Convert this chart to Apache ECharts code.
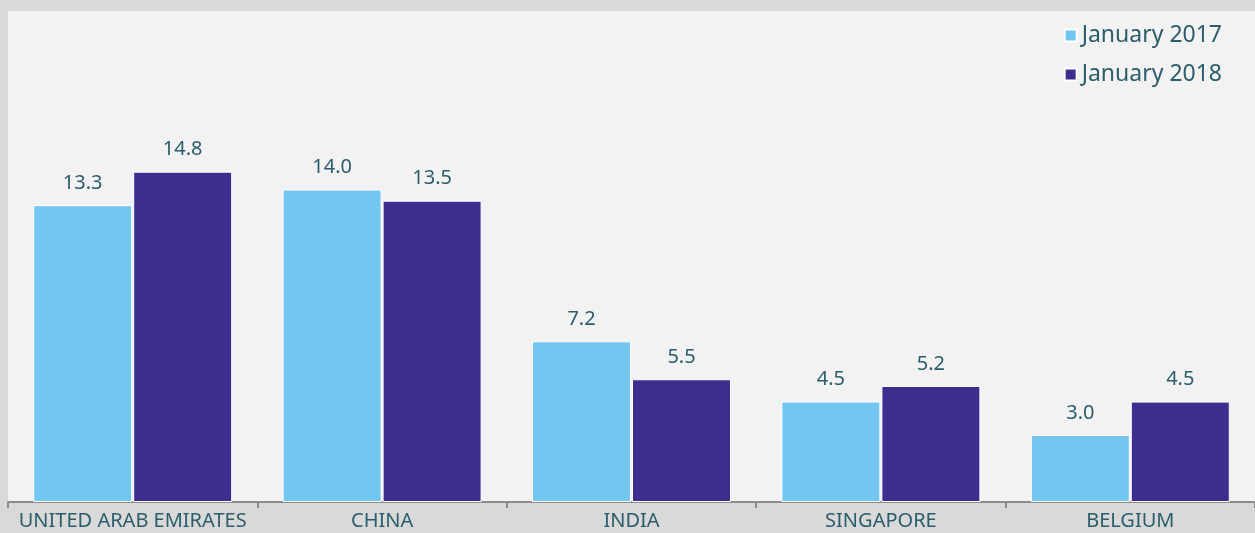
<!DOCTYPE html>
<html>
<head>
<meta charset="utf-8">
<script src="https://cdn.jsdelivr.net/npm/echarts@6/dist/echarts.min.js"></script>
<style>
  html, body { margin: 0; padding: 0; background: #d9d9d9; }
  #chart { width: 1255px; height: 533px; }
</style>
</head>
<body>
<div id="chart"></div>
<script>
// data
const countries = ['UNITED ARAB EMIRATES', 'CHINA', 'INDIA', 'SINGAPORE', 'BELGIUM'];
const jan2017 = [13.3, 14.0, 7.2, 4.5, 3.0];
const jan2018 = [14.8, 13.5, 5.5, 5.2, 4.5];
const seriesNames = ['January 2017', 'January 2018'];

const textColor = '#2b5d6b';
const fontFam = '"Noto Sans", "Open Sans", sans-serif';

const chart = echarts.init(document.getElementById('chart'));

const barLabel = {
  show: true,
  position: 'top',
  distance: 12,
  color: textColor,
  fontFamily: fontFam,
  fontSize: 20,
  formatter: p => p.value.toFixed(1)
};

const option = {
  backgroundColor: '#d9d9d9',
  animation: false,
  legend: {
    right: 28,
    top: 19,
    orient: 'vertical',
    itemWidth: 12,
    itemHeight: 12,
    itemGap: 16,
    icon: 'rect',
    textStyle: { color: textColor, fontFamily: fontFam, fontSize: 23 },
    data: seriesNames
  },
  grid: {
    left: 8,
    right: -2,
    top: 11,
    bottom: 31,
    show: true,
    backgroundColor: '#f2f2f2',
    borderWidth: 0
  },
  xAxis: {
    type: 'category',
    data: countries,
    axisLine: { lineStyle: { color: '#8c8c8c', width: 2 } },
    axisTick: { show: true, length: 6, lineStyle: { color: '#8c8c8c', width: 2 } },
    axisLabel: {
      color: textColor,
      fontFamily: fontFam,
      fontSize: 20,
      margin: 9,
      interval: 0
    }
  },
  yAxis: {
    type: 'value',
    min: 0,
    max: 22,
    show: false,
    splitLine: { show: false }
  },
  series: [
    {
      name: seriesNames[0],
      type: 'bar',
      data: jan2017,
      barWidth: 99,
      barGap: '1%',
      itemStyle: { color: '#72c6f0', borderColor: '#ffffff', borderWidth: 1 },
      label: barLabel
    },
    {
      name: seriesNames[1],
      type: 'bar',
      data: jan2018,
      barWidth: 99,
      barGap: '1%',
      itemStyle: { color: '#3b2e8f', borderColor: '#ffffff', borderWidth: 1 },
      label: barLabel
    }
  ]
};

chart.setOption(option);
</script>
</body>
</html>
